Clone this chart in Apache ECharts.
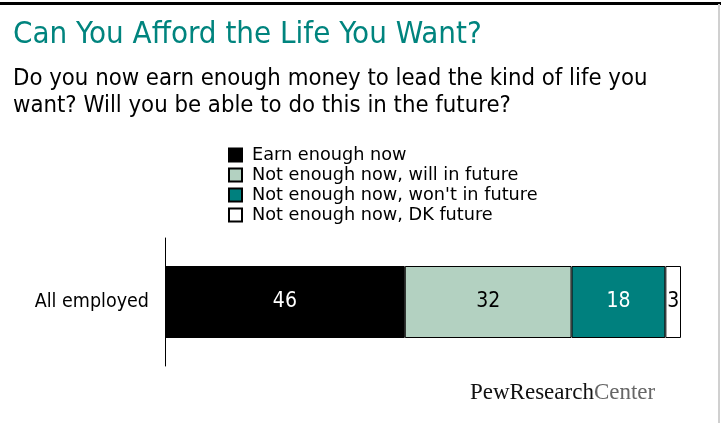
<!DOCTYPE html>
<html>
<head>
<meta charset="utf-8">
<script src="https://cdn.jsdelivr.net/npm/echarts@6/dist/echarts.min.js"></script>
<style>
  html, body { margin: 0; padding: 0; background: #fff; }
  #chart { width: 721px; height: 423px; }
</style>
</head>
<body>
<div id="chart"></div>
<script>
var categories = ['All employed']
var seriesNames = ['Earn enough now', 'Not enough now, will in future', "Not enough now, won't in future", 'Not enough now, DK future']
var seriesValues = [[46], [32], [18], [3]]
var seriesColors = ['#000000', '#b3d1c1', '#00807e', '#ffffff']
var labelColors = ['#ffffff', '#000000', '#ffffff', '#000000']

var narrow = '"DejaVu Sans Condensed", "Liberation Sans Narrow", sans-serif'

var myChart = echarts.init(document.getElementById('chart'))

var series = seriesNames.map(function (name, i) {
  return {
    name: name,
    type: 'bar',
    stack: 'total',
    barWidth: 72,
    data: seriesValues[i],
    itemStyle: {
      color: seriesColors[i],
      borderColor: '#000',
      borderWidth: 1
    },
    label: {
      show: true,
      position: 'inside',
      color: labelColors[i],
      fontFamily: narrow,
      fontSize: 21
    }
  }
})

var option = {
  animation: false,
  title: [{
    text: 'Can You Afford the Life You Want?',
    left: 8,
    top: 14,
    textStyle: { color: '#00847e', fontFamily: narrow, fontSize: 31, fontWeight: 'normal' }
  }, {
    text: 'Do you now earn enough money to lead the kind of life you\nwant? Will you be able to do this in the future?',
    left: 8,
    top: 60,
    textStyle: { color: '#000', fontFamily: narrow, fontSize: 23.7, fontWeight: 'normal', lineHeight: 27 }
  }],
  legend: {
    orient: 'vertical',
    left: 223,
    top: 141,
    itemWidth: 13,
    itemHeight: 13,
    itemGap: 2,
    icon: 'rect',
    textStyle: { fontFamily: 'DejaVu Sans', fontSize: 17.7, color: '#000', padding: [0, 0, 0, 5] },
    data: seriesNames
  },
  grid: { left: 165, right: 40, top: 238, height: 128 },
  xAxis: {
    type: 'value',
    min: 0,
    max: 99,
    show: false
  },
  yAxis: {
    type: 'category',
    data: categories,
    axisLine: { show: true, lineStyle: { color: '#000', width: 1 } },
    axisTick: { show: false },
    axisLabel: { color: '#000', fontFamily: narrow, fontSize: 19.5, margin: 16 }
  },
  series: series,
  graphic: [{
    type: 'rect',
    shape: { x: 0, y: 2, width: 721, height: 3 },
    style: { fill: '#000' }
  }, {
    type: 'rect',
    shape: { x: 718, y: 4, width: 2, height: 419 },
    style: { fill: '#d0d0d0' }
  }, {
    type: 'text',
    left: 470,
    top: 381,
    style: {
      text: '{a|PewResearch}{b|Center}',
      rich: {
        a: { fontFamily: 'Liberation Serif', fontSize: 23, fill: '#111' },
        b: { fontFamily: 'Liberation Serif', fontSize: 23, fill: '#666' }
      }
    }
  }]
}

myChart.setOption(option)
</script>
</body>
</html>
